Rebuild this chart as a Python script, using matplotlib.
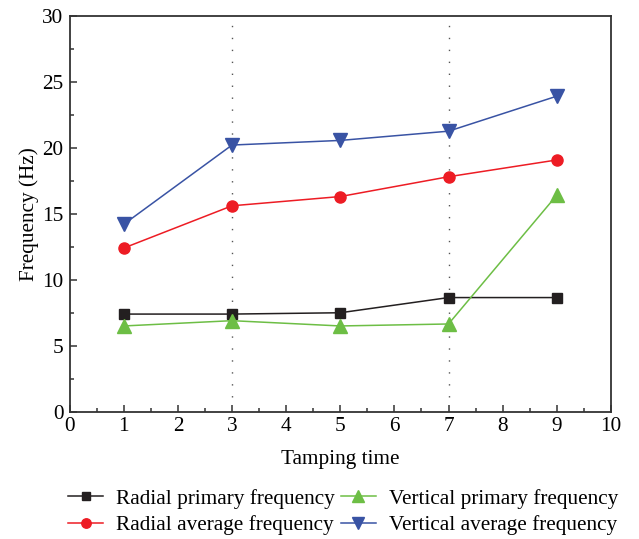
import matplotlib
matplotlib.use("Agg")

import matplotlib.pyplot as plt
from matplotlib.ticker import MultipleLocator

plt.rcParams["font.family"] = ["Liberation Serif", "DejaVu Serif"]

# tamping times and measured frequencies (Hz)
tamping = [1, 3, 5, 7, 9]
radial_primary = [7.4, 7.4, 7.5, 8.65, 8.65]
radial_average = [12.4, 15.6, 16.3, 17.8, 19.07]
vertical_primary = [6.5, 6.9, 6.5, 6.65, 16.4]
vertical_average = [14.2, 20.2, 20.55, 21.25, 23.9]
marker_lines = [3, 7]

FS = 15.3

fig = plt.figure(figsize=(6.39, 5.39), dpi=100)
ax = fig.add_axes([0.109, 0.236, 0.847, 0.735])

# dotted guide lines at the marked tamping passes
ax.vlines(marker_lines, 1.1, 29.5, color="#555555", linestyle=(0, (1, 7.6)),
          linewidth=1.0, zorder=1)

ax.plot(tamping, radial_primary, color="#231f20", marker="s", markersize=7.5,
        linewidth=1.1, label="Radial primary frequency", zorder=3)
ax.plot(tamping, radial_average, color="#ed1c24", marker="o", markersize=8,
        linewidth=1.1, label="Radial average frequency", zorder=3)
ax.plot(tamping, vertical_primary, color="#6dbe45", marker="^", markersize=9.5,
        linewidth=1.1, label="Vertical primary frequency", zorder=3)
ax.plot(tamping, vertical_average, color="#3953a4", marker="v", markersize=9.5,
        linewidth=1.1, label="Vertical average frequency", zorder=3)

ax.set_xlim(0, 10)
ax.set_ylim(0, 30)
ax.xaxis.set_major_locator(MultipleLocator(1))
ax.xaxis.set_minor_locator(MultipleLocator(0.5))
ax.yaxis.set_major_locator(MultipleLocator(5))
ax.yaxis.set_minor_locator(MultipleLocator(2.5))
ax.tick_params(which="both", direction="in", top=False, right=False,
               labelsize=FS, color="#333333")
ax.tick_params(which="major", length=5, width=1.1)
ax.tick_params(which="minor", length=3, width=1.1)
ax.tick_params(axis="y", pad=4.5)
ax.tick_params(axis="x", pad=3.5)
for s in ax.spines.values():
    s.set_color("#333333")
    s.set_linewidth(1.3)

ax.set_xlabel("Tamping time", fontsize=FS, labelpad=10)
ax.set_ylabel("Frequency (Hz)", fontsize=FS, labelpad=2)

fig.legend(loc="upper left", bbox_to_anchor=(68 / 639, 1 - 489 / 539), ncol=2,
           frameon=False, fontsize=FS, handlelength=1.65, columnspacing=0.3,
           handletextpad=0.6, labelspacing=0.3, borderpad=0, borderaxespad=0,
           markerscale=0.85)

fig.savefig("out.png", dpi=100)
